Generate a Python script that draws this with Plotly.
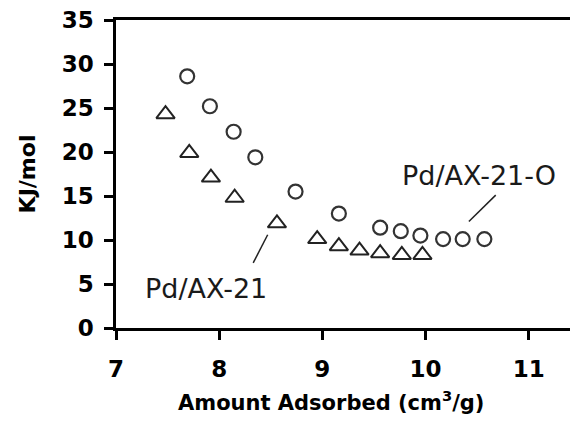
import plotly.graph_objects as go

# Isosteric heat of adsorption vs. amount adsorbed
ax21_o_amount = [7.69, 7.91, 8.14, 8.35, 8.74, 9.16, 9.56, 9.76, 9.95, 10.17, 10.36, 10.57]
ax21_o_heat = [28.6, 25.2, 22.3, 19.4, 15.5, 13.0, 11.4, 11.0, 10.5, 10.1, 10.1, 10.1]

ax21_amount = [7.48, 7.71, 7.92, 8.15, 8.56, 8.95, 9.16, 9.36, 9.56, 9.77, 9.97]
ax21_heat = [24.3, 19.9, 17.1, 14.8, 11.9, 10.1, 9.3, 8.8, 8.5, 8.3, 8.3]

x_ticks = [7, 8, 9, 10, 11]
y_ticks = [0, 5, 10, 15, 20, 25, 30, 35]

label_o = "Pd/AX-21-O"
label_plain = "Pd/AX-21"
x_title = "<b>Amount Adsorbed (cm<sup>3</sup>/g)</b>"
y_title = "<b>KJ/mol</b>"

fig = go.Figure()

fig.add_trace(go.Scatter(
    x=ax21_o_amount, y=ax21_o_heat, mode="markers", name=label_o,
    marker=dict(symbol="circle-open", size=14, color="#333333",
                line=dict(width=2.2, color="#333333")),
))
fig.add_trace(go.Scatter(
    x=ax21_amount, y=ax21_heat, mode="markers", name=label_plain,
    marker=dict(symbol="triangle-up-open", size=16, color="#222222",
                line=dict(width=2, color="#222222")),
))

# leader lines from the series labels to the points
fig.add_shape(type="line", x0=10.68, y0=15.1, x1=10.42, y1=12.1,
              line=dict(color="#222222", width=1.5))
fig.add_shape(type="line", x0=8.33, y0=7.4, x1=8.47, y1=10.6,
              line=dict(color="#222222", width=1.5))

label_font = dict(family="DejaVu Sans", size=27, color="#1a1a1a")
fig.add_annotation(x=10.52, y=17.3, text=label_o, showarrow=False, font=label_font)
fig.add_annotation(x=7.87, y=4.5, text=label_plain, showarrow=False, font=label_font)

# x-axis title, placed slightly left of the plot-area centre
fig.add_annotation(
    xref="paper", yref="paper", x=0.474, y=-0.236, xanchor="center", yanchor="middle",
    text=x_title, showarrow=False,
    font=dict(family="DejaVu Sans", size=21, color="#000000"),
)

tick_font = dict(family="DejaVu Sans", size=23, color="#000000")

fig.update_xaxes(
    range=[7, 11.4], tickvals=x_ticks, ticktext=[f"<b>{v}</b>" for v in x_ticks],
    showline=True, linecolor="#000000", linewidth=2.5, mirror=True,
    ticks="outside", ticklen=9, tickwidth=2.5, tickcolor="#000000",
    showgrid=False, zeroline=False, tickfont=tick_font, ticklabelstandoff=10,
)
fig.update_yaxes(
    range=[0, 35], tickvals=y_ticks, ticktext=[f"<b>{v}</b>" for v in y_ticks],
    showline=True, linecolor="#000000", linewidth=2.5, mirror=False,
    ticks="outside", ticklen=9, tickwidth=2.5, tickcolor="#000000",
    showgrid=False, zeroline=False, tickfont=tick_font, ticklabelstandoff=6,
    title=dict(text=y_title,
               font=dict(family="DejaVu Sans", size=22, color="#000000"), standoff=20),
)

fig.update_layout(
    width=570, height=425,
    margin=dict(l=116, r=0, t=20, b=97),
    paper_bgcolor="white", plot_bgcolor="white",
    showlegend=False,
)

fig.write_html("out.html")
